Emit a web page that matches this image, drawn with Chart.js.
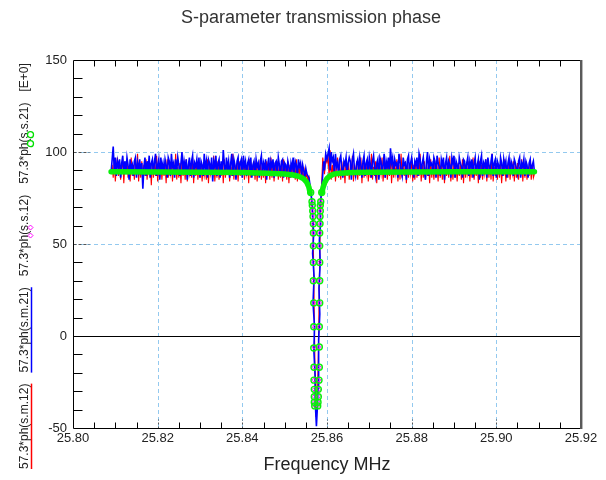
<!DOCTYPE html>
<html>
<head>
<meta charset="utf-8">
<script src="https://cdn.jsdelivr.net/npm/chart.js@4.4.1/dist/chart.umd.min.js"></script>
<style>
  html, body { margin: 0; padding: 0; background: #fff; }
  #wrap { width: 606px; height: 480px; position: relative; }
</style>
</head>
<body>
<div id="wrap"><canvas id="phaseChart"></canvas></div>
<script>
// Frequency sweep (MHz) of the flat parts, one point every sweepStep
const sweepStep = 0.00025;
const leftStart = 25.809;
const rightStart = 25.860;

// 57.3*ph(s.m.21) - measured, blue
const sm21Left = [
  89,96,103,90,97,87,95,92,96,86,94,98,88,95,89,97,93,85,96,91,
  93,87,95,97,86,94,90,96,88,94,80,92,97,87,95,90,98,86,94,96,
  88,95,99,87,93,96,85,97,91,94,88,96,93,86,97,95,87,99,92,94,
  86,96,89,97,93,87,94,100,88,95,91,96,85,93,97,87,95,98,86,94,
  92,96,88,97,86,95,93,87,99,91,95,86,96,94,88,97,84,95,92,98,
  87,94,96,86,95,89,101,93,88,97,91,95,86,94,99,87,96,93,85,95,
  97,88,94,96,86,98,92,95,87,94,96,88,97,86,93,95,87,96,92,94,
  86,95,98,88,94,91,96,85,93,97,87,95,92,96,86,94,95,88,97,93,
  87,95,96,86,94,93,88,95,92,86,94,91,97,87,95,93,86,96,92,94,
  87,93,90,86,91,88,87,86];
const sm21DipFreq = [25.8558,25.8561,25.8564,25.8566,25.85685,25.8566,25.85695,25.8567,25.85705,25.8569,
  25.8572,25.8572,25.8575,25.8577,25.8579,25.8581,25.85795,25.8583,25.8581,25.8584,
  25.8582,25.8585,25.8583,25.8587,25.8590,25.8592,25.8594,25.8597];
const sm21Dip = [86,80,74,66,55,45,32,18,5,-8,-22,-35,-49,-40,-28,-15,-2,12,26,40,
  52,62,70,78,88,95,90,99];
const sm21Right = [
  96,99,102,90,100,95,97,88,99,92,94,87,96,98,91,86,95,93,97,88,
  94,97,95,85,96,99,90,87,94,96,89,97,93,86,95,98,87,94,96,88,
  97,93,86,95,98,91,87,94,96,85,97,95,88,93,99,86,95,92,97,88,
  102,94,97,88,96,93,94,86,99,95,90,87,97,93,94,85,96,98,88,94,
  97,92,86,95,93,97,87,99,96,88,94,97,90,85,95,100,87,96,93,94,
  88,97,95,86,98,94,92,87,96,93,97,85,94,97,88,95,93,86,97,94,
  98,86,95,93,88,97,94,92,86,96,95,88,94,97,87,95,92,96,86,94,
  97,88,93,96,85,95,98,87,94,92,96,86,97,93,88,95,99,87,94,96,
  86,95,93,88,97,94,87,96,92,95,86,94,97,88,95,93,87,96,94,91,
  88,95,97,86,94,92,96,87,95,93,86,94,96,88,93,95,89];

// 57.3*ph(s.m.12) - measured, red
const sm12Left = [
  88,93,86,95,84,92,97,87,94,85,91,96,83,93,88,95,86,92,84,97,
  87,93,85,94,88,99,84,92,86,95,83,93,87,96,85,92,88,94,82,95,
  86,93,87,98,84,92,86,95,85,93,87,94,83,96,86,92,88,95,84,93,
  87,99,85,92,86,94,83,95,87,93,85,96,84,92,88,94,86,97,83,93,
  87,95,85,92,86,94,84,93,87,91,85,96,83,94,88,92,86,98,84,93,
  86,95,85,92,87,94,83,96,86,93,88,95,84,92,87,99,85,93,86,94,
  84,95,87,92,86,97,85,93,88,94,83,96,86,92,87,95,85,93,84,94,
  87,96,85,92,86,94,83,95,88,93,85,97,86,92,84,94,87,95,85,93,
  86,94,84,96,87,92,85,95,83,93,86,94,88,92,85,96,84,93,87,94,
  85,92,84,90,86,88,84,86];
const sm12DipFreq = [25.8558,25.8562,25.8566,25.8568,25.8570,25.8572,25.8574,25.8577,25.8580,25.8582,
  25.8584,25.8587,25.8590,25.8594,25.8597];
const sm12Dip = [84,78,68,45,10,-25,-44,-36,-5,30,60,80,97,88,96];
const sm12Right = [
  94,99,86,101,85,93,87,96,84,92,97,86,93,85,95,88,92,83,96,87,
  94,85,92,88,98,84,93,86,95,85,92,87,97,83,94,86,92,88,96,84,
  93,86,99,85,92,87,95,83,94,86,92,88,97,84,93,86,95,85,92,87,
  98,83,94,86,92,88,96,84,93,85,99,86,92,87,95,83,94,86,92,88,
  97,84,93,85,95,86,92,87,99,84,93,86,95,85,92,87,94,83,96,86,
  93,85,94,88,92,84,97,86,93,85,95,83,92,87,94,86,98,84,93,85,
  95,86,92,84,94,87,93,85,96,83,94,86,92,88,95,84,93,86,97,85,
  92,87,94,83,95,86,93,85,92,88,96,84,94,86,93,85,99,84,92,87,
  94,85,93,86,95,83,92,87,96,84,93,86,94,85,92,88,95,84,93,86,
  94,85,92,87,96,84,93,86,95,85,92,87,94,85,93,86,88];

// 57.3*ph(s.s.21) - simulated, green band
const ss21Freq = [25.809,25.820,25.830,25.840,25.846,25.850,25.852,25.8535,25.8545,25.8552,
  25.8557,25.8560,25.8574,25.8588,25.8591,25.8595,25.8600,25.8607,25.8616,25.863,
  25.866,25.870,25.880,25.890,25.900,25.909];
const ss21 = [89.2,89.1,89,88.8,88.5,88,87.5,86.6,85.4,83.6,
  81,78,null,78,81,83.6,85.6,87,88,88.5,
  88.8,89,89.1,89.2,89.2,89.2];
// simulated points down the resonance (left wall, then right wall)
const ssDipFreq = [25.85615,25.85646,25.85653,25.85663,25.85670,25.85677,25.85677,25.85677,25.85677,25.85677,
  25.85687,25.85687,25.85687,25.85693,25.85693,25.85700,25.85700,25.85700,25.85710,
  25.85781,25.85788,25.85795,25.85795,25.85811,25.85819,25.85819,25.85819,25.85828,25.85828,
  25.85828,25.85828,25.85828,25.85835,25.85835,25.85842,25.85842,25.85852,25.85875];
const ss21Dip = [78,73,71,68,65,61,56,49,40,30,18,5,-6.5,-17,-24,-29,-33,-36,-38,
  -38,-36,-33,-29,-24,-17,-6,5,18,30,40,49,56,61,65,68,71,73,78];
// 57.3*ph(s.s.12) - simulated, magenta
const ss12Dip = [78,73,71,68,65,61,56,49,40,30,18,5,-6,-17,-24,-29,-33,-36,-38,
  -38,-36,-33,-29,-24,-17,-6,5,18,30,40,49,56,61,65,68,71,73,78];

const xTickLabels = ['25.80','25.82','25.84','25.86','25.88','25.90','25.92'];
const yTickLabels = ['-50','0','50','100','150'];

const yLegend = [
  { text: '57.3*ph(s.m.12)', mark: 'line', color: '#ff0000' },
  { text: '57.3*ph(s.m.21)', mark: 'line', color: '#0000ff' },
  { text: '57.3*ph(s.s.12)', mark: 'diamond', color: '#ff00ff' },
  { text: '57.3*ph(s.s.21)', mark: 'circle', color: '#00e000' },
  { text: '[E+0]', mark: null }
];

function sweep(start, vals) {
  return vals.map((v, i) => ({ x: +(start + i * sweepStep).toFixed(5), y: v }));
}
function pairs(freqs, vals) {
  return freqs.map((f, i) => ({ x: f, y: vals[i] }));
}

const blueData = sweep(leftStart, sm21Left).concat(pairs(sm21DipFreq, sm21Dip), sweep(rightStart, sm21Right));
const redData = sweep(leftStart, sm12Left).concat(pairs(sm12DipFreq, sm12Dip), sweep(rightStart, sm12Right));

const GRID = '#93c9ef';
const TEXT = '#222';
const GREEN = '#0af00a';
const FONT = '"Liberation Sans", Arial, sans-serif';

const framePlugin = {
  id: 'frame',
  beforeDatasetsDraw(chart) {
    const { ctx, chartArea: a, scales: { x, y } } = chart;
    ctx.save();
    ctx.lineWidth = 1;
    ctx.strokeStyle = GRID;
    ctx.setLineDash([4, 3]);
    x.ticks.forEach(t => {
      if (t.value <= x.min || t.value >= x.max) return;
      const px = Math.round(x.getPixelForValue(t.value)) + 0.5;
      ctx.beginPath(); ctx.moveTo(px, a.top); ctx.lineTo(px, a.bottom); ctx.stroke();
    });
    y.ticks.forEach(t => {
      if (t.value <= y.min || t.value >= y.max || t.value === 0) return;
      const py = Math.round(y.getPixelForValue(t.value)) + 0.5;
      ctx.beginPath(); ctx.moveTo(a.left, py); ctx.lineTo(a.right, py); ctx.stroke();
    });
    ctx.setLineDash([]);
    ctx.strokeStyle = '#000';
    const p0 = Math.round(y.getPixelForValue(0)) + 0.5;
    ctx.beginPath(); ctx.moveTo(a.left, p0); ctx.lineTo(a.right, p0); ctx.stroke();
    ctx.restore();
  },
  afterDatasetsDraw(chart) {
    const { ctx, chartArea: a, scales: { x, y } } = chart;
    const L = Math.round(a.left) + 0.5, R = Math.round(a.right), T = Math.round(a.top) + 0.5, B = Math.round(a.bottom) + 0.5;
    ctx.save();
    ctx.lineWidth = 1;
    // minor / major ticks, pointing inwards
    for (let k = 1; k < 24; k++) {
      const px = Math.round(x.getPixelForValue(25.80 + k * 0.005)) + 0.5;
      if (k % 4 === 0) {
        ctx.strokeStyle = '#555'; ctx.setLineDash([2, 2]);
        ctx.beginPath(); ctx.moveTo(px, B); ctx.lineTo(px, B - 9); ctx.stroke();
        ctx.setLineDash([]);
      } else {
        ctx.strokeStyle = '#000';
        ctx.beginPath(); ctx.moveTo(px, B); ctx.lineTo(px, B - 6); ctx.stroke();
        ctx.beginPath(); ctx.moveTo(px, T); ctx.lineTo(px, T + 6); ctx.stroke();
      }
    }
    for (let k = 1; k < 20; k++) {
      const v = -50 + k * 10;
      const py = Math.round(y.getPixelForValue(v)) + 0.5;
      if (v % 50 === 0) {
        if (v === 0) continue;
        ctx.strokeStyle = '#555'; ctx.setLineDash([3, 2]);
        ctx.beginPath(); ctx.moveTo(L, py); ctx.lineTo(L + 16, py); ctx.stroke();
        ctx.setLineDash([]);
      } else {
        ctx.strokeStyle = '#000';
        ctx.beginPath(); ctx.moveTo(L, py); ctx.lineTo(L + 9, py); ctx.stroke();
      }
    }
    // box
    ctx.strokeStyle = '#000';
    ctx.beginPath(); ctx.moveTo(L, T); ctx.lineTo(R, T); ctx.stroke();
    ctx.beginPath(); ctx.moveTo(L, T); ctx.lineTo(L, B); ctx.lineTo(R, B); ctx.stroke();
    ctx.strokeStyle = '#5a5a5a'; ctx.lineWidth = 2;
    ctx.beginPath(); ctx.moveTo(R, T - 0.5); ctx.lineTo(R, B + 0.5); ctx.stroke();
    ctx.strokeStyle = '#b8b8b8'; ctx.lineWidth = 1;
    ctx.beginPath(); ctx.moveTo(R + 1.5, T - 0.5); ctx.lineTo(R + 1.5, B + 0.5); ctx.stroke();
    ctx.restore();
  },
  afterDraw(chart) {
    const { ctx } = chart;
    ctx.save();
    // chart title
    ctx.fillStyle = '#333';
    ctx.font = '18px ' + FONT;
    ctx.textAlign = 'center';
    ctx.textBaseline = 'middle';
    ctx.fillText('S-parameter transmission phase', 311, 18);
    // rotated y-axis legend / title
    ctx.translate(28, 469);
    ctx.rotate(-Math.PI / 2);
    ctx.font = '12px ' + FONT;
    ctx.textAlign = 'left';
    ctx.textBaseline = 'alphabetic';
    let pos = 0;
    yLegend.forEach(item => {
      const w = ctx.measureText(item.text).width;
      ctx.fillStyle = TEXT;
      ctx.fillText(item.text, pos, 0);
      const mid = pos + w / 2 + 4;
      if (item.mark === 'line') {
        ctx.strokeStyle = item.color; ctx.lineWidth = 1.5;
        ctx.beginPath(); ctx.moveTo(pos, 3.5); ctx.lineTo(pos + w, 3.5); ctx.stroke();
      } else if (item.mark === 'diamond') {
        ctx.strokeStyle = item.color; ctx.lineWidth = 1;
        [-4, 4].forEach(d => {
          const cx = mid + d, cy = 2.5;
          ctx.beginPath();
          ctx.moveTo(cx - 2.5, cy); ctx.lineTo(cx, cy - 2.5); ctx.lineTo(cx + 2.5, cy); ctx.lineTo(cx, cy + 2.5);
          ctx.closePath(); ctx.stroke();
        });
      } else if (item.mark === 'circle') {
        ctx.strokeStyle = item.color; ctx.lineWidth = 1.3;
        [-4.5, 4.5].forEach(d => {
          ctx.beginPath(); ctx.arc(mid + d, 2.5, 3, 0, Math.PI * 2); ctx.stroke();
        });
      }
      pos += w + 11;
    });
    ctx.restore();
  }
};

new Chart(document.getElementById('phaseChart'), {
  type: 'line',
  data: {
    datasets: [
      {
        label: '57.3*ph(s.s.21)',
        data: pairs(ss21Freq, ss21),
        borderColor: GREEN,
        borderWidth: 5.5,
        borderCapStyle: 'round',
        pointRadius: 0,
        spanGaps: false,
        order: 0
      },
      {
        label: '57.3*ph(s.s.21) dip',
        data: pairs(ssDipFreq, ss21Dip),
        showLine: false,
        pointStyle: 'circle',
        pointRadius: 3,
        pointBorderWidth: 1.4,
        pointBorderColor: GREEN,
        pointBackgroundColor: 'rgba(0,0,0,0)',
        order: 0
      },
      {
        label: '57.3*ph(s.s.12)',
        data: pairs(ssDipFreq, ss12Dip),
        showLine: false,
        pointStyle: 'rectRot',
        pointRadius: 2,
        pointBorderWidth: 1,
        pointBorderColor: '#ff00ff',
        pointBackgroundColor: 'rgba(0,0,0,0)',
        order: 1
      },
      {
        label: '57.3*ph(s.m.21)',
        data: blueData,
        borderColor: '#0000ff',
        borderWidth: 1.6,
        pointRadius: 0,
        order: 2
      },
      {
        label: '57.3*ph(s.m.12)',
        data: redData,
        borderColor: '#ff0000',
        borderWidth: 1.1,
        pointRadius: 0,
        order: 3
      }
    ]
  },
  options: {
    responsive: true,
    maintainAspectRatio: false,
    animation: false,
    layout: { padding: { top: 60, right: 25, left: 0, bottom: 0 } },
    plugins: {
      legend: { display: false },
      title: { display: false },
      tooltip: { enabled: false }
    },
    elements: { line: { tension: 0, fill: false } },
    scales: {
      x: {
        type: 'linear',
        min: 25.80,
        max: 25.92,
        afterFit(scale) { scale.height = 52; },
        border: { display: false },
        grid: { display: false, drawTicks: false },
        ticks: {
          stepSize: 0.02,
          autoSkip: false,
          maxRotation: 0,
          padding: 3,
          color: TEXT,
          font: { family: FONT, size: 13 },
          callback: (v) => xTickLabels.find(l => Math.abs(parseFloat(l) - v) < 1e-6) || ''
        },
        title: {
          display: true,
          text: 'Frequency MHz',
          color: TEXT,
          font: { family: FONT, size: 18 },
          padding: { top: 0, bottom: 4 }
        }
      },
      y: {
        min: -50,
        max: 150,
        afterFit(scale) { scale.width = 73; },
        border: { display: false },
        grid: { display: false, drawTicks: false },
        ticks: {
          stepSize: 50,
          padding: 6,
          color: TEXT,
          font: { family: FONT, size: 13 },
          callback: (v) => yTickLabels.find(l => Number(l) === v) || ''
        }
      }
    }
  },
  plugins: [framePlugin]
});
</script>
</body>
</html>
